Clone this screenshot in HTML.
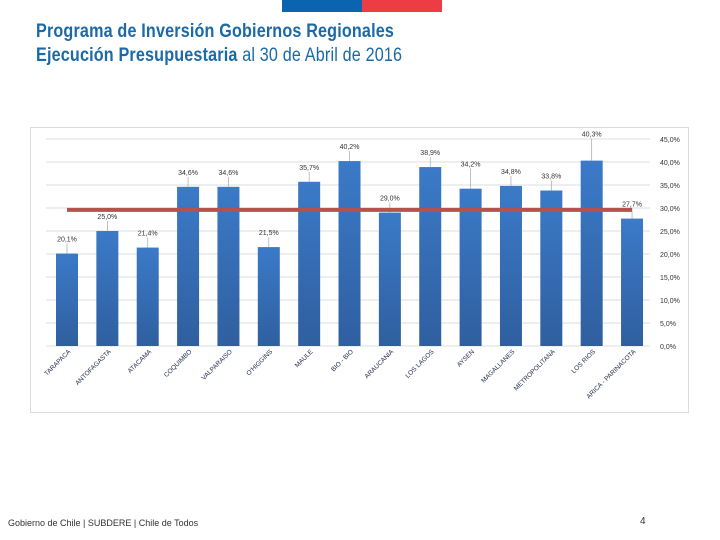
<!DOCTYPE html>
<html><head><meta charset="utf-8"><style>
body{margin:0;width:720px;height:540px;background:#fff;position:relative;overflow:hidden;font-family:"Liberation Sans",sans-serif}
.t{position:absolute;left:36px;color:#1a6aa8;font-weight:bold;font-size:19px;letter-spacing:0.2px;transform:scaleX(0.85);transform-origin:0 0;white-space:nowrap}
</style></head><body>
<div style="position:absolute;left:282px;top:0;width:80px;height:12px;background:#0a64b0"></div>
<div style="position:absolute;left:362px;top:0;width:80px;height:12px;background:#ee3c45"></div>
<div class="t" style="top:21px">Programa de Inversión Gobiernos Regionales</div>
<div class="t" style="top:45px">Ejecución Presupuestaria <span style="font-weight:normal;font-size:19px">al 30 de Abril de 2016</span></div>
<svg id="chart" width="720" height="540" style="position:absolute;left:0;top:0">
<defs><linearGradient id="bg" x1="0" y1="0" x2="0" y2="1"><stop offset="0" stop-color="#3b7ac8"/><stop offset="1" stop-color="#2f5f9f"/></linearGradient></defs>
<rect x="30.5" y="127.5" width="658" height="285" fill="none" stroke="#d9dde2"/>
</svg>
<div style="position:absolute;left:8px;top:518px;font-size:9px;color:#333">Gobierno de Chile | SUBDERE | Chile de Todos</div>
<div style="position:absolute;left:640px;top:516px;font-size:10px;color:#333">4</div>
<script>
const categories=["TARAPACA","ANTOFAGASTA","ATACAMA","COQUIMBO","VALPARAISO","O'HIGGINS","MAULE","BIO - BIO","ARAUCANIA","LOS LAGOS","AYSEN","MAGALLANES","METROPOLITANA","LOS RIOS","ARICA - PARINACOTA"];
const values=[20.1,25.0,21.4,34.6,34.6,21.5,35.7,40.2,29.0,38.9,34.2,34.8,33.8,40.3,27.7];
const average=[29.6];
const ticks=[0,5,10,15,20,25,30,35,40,45];
const ns="http://www.w3.org/2000/svg";
const svg=document.getElementById('chart');
const y=v=>346-v*4.6;
const x=i=>67+i*40.36;
function mk(t,a){const e=document.createElementNS(ns,t);for(const k in a)e.setAttribute(k,a[k]);svg.appendChild(e);return e;}
ticks.forEach(t=>{
 const g=mk('line',{x1:46,x2:650,y1:y(t),y2:y(t),stroke:'#d9dde2','stroke-width':1});
 
 
 const l=mk('text',{x:660,y:y(t)+3,'font-size':7,fill:'#333'});
 l.textContent=t.toFixed(1).replace('.',',')+'%';
 
 
});
const lift=[0,0,0,0,0,0,0,0,0,0,10,0,0,12,0];
values.forEach((v,i)=>{
 const b=mk('rect',{x:x(i)-11,y:y(v),width:22,height:y(0)-y(v),fill:'url(#bg)'});
 
 
 const ly=y(v)-12-lift[i];
 mk('line',{x1:x(i),x2:x(i),y1:ly+2,y2:y(v),stroke:'#9aa8b5','stroke-width':0.7});
 const t=mk('text',{x:x(i),y:ly,'font-size':7,fill:'#333','text-anchor':'middle'});
 t.textContent=v.toFixed(1).replace('.',',')+'%';
 
 
 const c=mk('text',{x:x(i)+4,y:352,'font-size':6.5,fill:'#1f2d4a','text-anchor':'end',transform:`rotate(-45 ${x(i)+4} 352)`});
 c.textContent=categories[i];
 
 
});
const avg=mk('line',{x1:67,x2:632,y1:y(average[0]),y2:y(average[0]),stroke:'#b5524e','stroke-width':4});


</script>
</body></html>
